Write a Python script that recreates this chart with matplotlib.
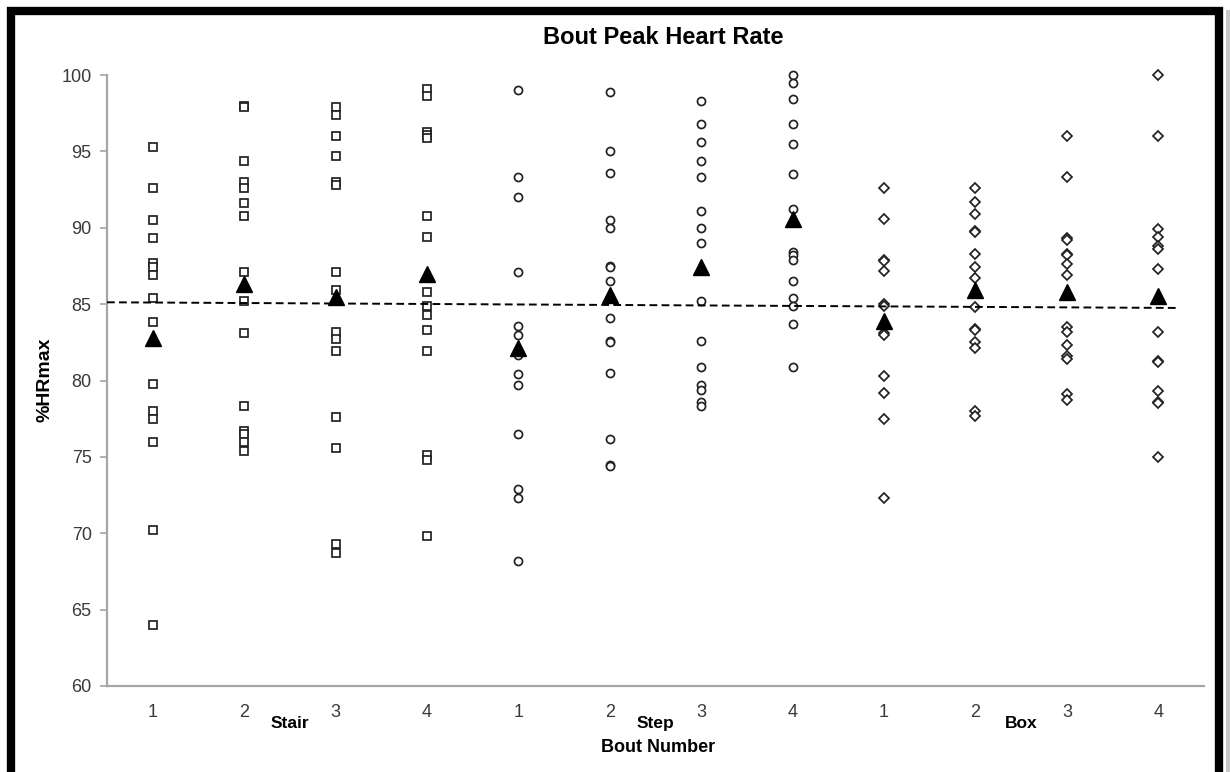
import matplotlib
matplotlib.use("Agg")
import matplotlib.pyplot as plt
from matplotlib.patches import Rectangle

plt.rcParams["font.family"] = ["Liberation Sans", "DejaVu Sans"]

# %HRmax per bout
stair_bouts = [
    [95.3, 92.6, 90.5, 89.3, 87.7, 87.4, 86.9, 85.4, 83.8, 79.8, 78.0, 77.5, 76.0, 70.2, 64.0],
    [98.0, 97.9, 94.4, 93.0, 92.6, 91.6, 90.8, 87.1, 85.2, 83.1, 78.3, 76.7, 76.5, 76.0, 75.4],
    [97.9, 97.4, 96.0, 94.7, 93.0, 92.8, 87.1, 85.9, 83.2, 82.7, 81.9, 77.6, 75.6, 69.3, 68.7],
    [99.1, 98.6, 96.3, 96.1, 95.9, 90.8, 89.4, 85.8, 84.9, 84.3, 83.3, 81.9, 75.1, 74.8, 69.8],
]
step_bouts = [
    [99.0, 93.3, 92.0, 87.1, 83.6, 83.0, 82.0, 81.7, 80.4, 79.7, 76.5, 72.9, 72.3, 68.2],
    [98.9, 95.0, 93.6, 90.5, 90.0, 87.5, 87.4, 86.5, 84.1, 82.6, 82.5, 80.5, 76.2, 74.5, 74.4],
    [98.3, 96.8, 95.6, 94.4, 93.3, 91.1, 90.0, 89.0, 85.2, 82.6, 80.9, 79.7, 79.4, 78.6, 78.3],
    [100.0, 99.5, 98.4, 96.8, 95.5, 93.5, 91.2, 88.4, 88.2, 87.9, 86.5, 85.4, 84.9, 83.7, 80.9],
]
box_bouts = [
    [92.6, 90.6, 87.9, 87.8, 87.2, 85.0, 84.9, 83.1, 83.0, 80.3, 79.2, 77.5, 72.3],
    [92.6, 91.7, 90.9, 89.8, 89.7, 88.3, 87.4, 86.7, 84.8, 83.4, 83.3, 82.5, 82.1, 78.0, 77.7],
    [96.0, 93.3, 89.3, 89.2, 88.3, 88.2, 87.6, 86.9, 83.5, 83.2, 82.3, 81.6, 81.4, 79.1, 78.7],
    [100.0, 96.0, 89.9, 89.4, 88.8, 88.6, 87.3, 83.2, 81.3, 81.2, 79.3, 78.6, 78.5, 75.0],
]
bout_means = [82.8, 86.3, 85.45, 87.0, 82.1, 85.6, 87.4, 90.6, 83.9, 85.9, 85.8, 85.5]

bout_labels = ["1", "2", "3", "4"] * 3
groups = ["Stair", "Step", "Box"]

trend_x = [0.5, 12.2]
trend_y = [85.12, 84.75]

W, H = 1230, 772
fig = plt.figure(figsize=(W / 100, H / 100), dpi=100, facecolor="white")
ax = fig.add_axes([107 / W, 1 - 686 / H, (1204 - 107) / W, (686 - 75) / H])

edge = "#222222"
series = [(stair_bouts, "s", 6.2), (step_bouts, "o", 5.8), (box_bouts, "D", 4.8)]
pos = 1
for bouts, mk, ms in series:
    for vals in bouts:
        ax.plot([pos] * len(vals), vals, linestyle="none", marker=mk, ms=ms,
                mfc="white", mec=edge, mew=1.25, zorder=3, clip_on=False)
        pos += 1

xs = list(range(1, len(bout_means) + 1))
ax.plot(xs, bout_means, linestyle="none", marker="^", ms=11.5,
        color="black", zorder=5)
ax.plot(trend_x, trend_y, color="black", lw=1.4, ls=(0, (4, 2.2)), zorder=4)

ax.set_xlim(0.5, 12.5)
ax.set_ylim(60, 100)
ax.set_yticks(range(60, 101, 5))
ax.set_xticks(xs)
ax.set_xticklabels(bout_labels)
ax.tick_params(axis="x", length=0, pad=13, labelsize=13, labelcolor="#3a3a3a")
ax.tick_params(axis="y", length=5, width=1.2, color="#a6a6a6", pad=6,
               labelsize=13, labelcolor="#3a3a3a")
for s in ["top", "right"]:
    ax.spines[s].set_visible(False)
for s in ["left", "bottom"]:
    ax.spines[s].set_color("#a6a6a6")
    ax.spines[s].set_linewidth(1.6)

for i, g in enumerate(groups):
    ax.text(2.5 + 4 * i, -0.062, g, transform=ax.get_xaxis_transform(),
            ha="center", va="center", fontsize=12.5, fontweight="bold")

fig.text(658 / W, 1 - 748 / H, "Bout Number", ha="center", va="center",
         fontsize=13, fontweight="bold")
fig.text(45 / W, 1 - 380 / H, "%HRmax", ha="center", va="center",
         rotation=90, fontsize=14, fontweight="bold")
fig.text(663 / W, 1 - 37 / H, "Bout Peak Heart Rate", ha="center",
         va="center", fontsize=17, fontweight="bold")

# thick black frame with a faint shadow on the right
fig.patches.append(Rectangle((1226 / W, 0), 4 / W, 1 - 10 / H,
                             transform=fig.transFigure, facecolor="#c8c8c8",
                             edgecolor="none", zorder=0))
fig.patches.append(Rectangle((11 / W, -4 / H), (1219 - 11) / W, (772 - 11 + 4) / H,
                             transform=fig.transFigure, fill=False,
                             edgecolor="black", linewidth=6, zorder=10))

fig.savefig("out.png", dpi=100, facecolor="white")
